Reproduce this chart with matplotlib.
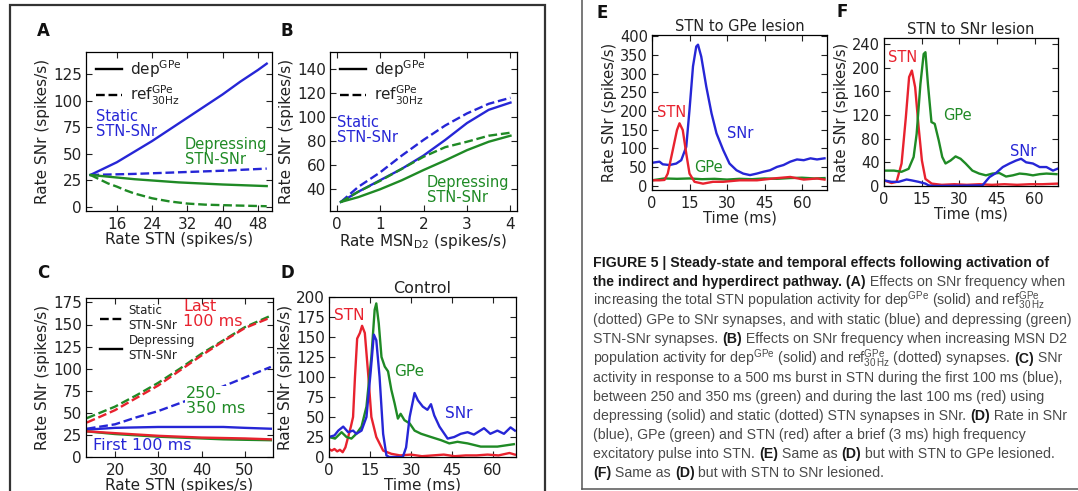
import matplotlib
matplotlib.use('Agg')
import matplotlib.pyplot as plt
from matplotlib.lines import Line2D
from matplotlib.patches import Rectangle

# ---------------- data ----------------
# Panel A
a_x = [10, 12, 14, 16, 20, 24, 28, 32, 36, 40, 44, 48, 50]
a_static_dep = [30, 34, 38, 42, 52, 62, 73, 84, 95, 106, 118, 129, 135]
a_x2 = [10, 20, 30, 40, 50]
a_static_ref = [30, 31, 32.5, 34, 36]
a_depr_dep = [30, 26, 23, 21, 19.5]
a_x3 = [10, 12, 14, 16, 18, 20, 24, 28, 32, 36, 40, 45, 50]
a_depr_ref = [30, 26, 22, 19, 15.5, 12.5, 8, 5, 3, 2, 1.5, 1, 0.5]

# Panel B
b_x = [0.1, 0.5, 1, 1.5, 2, 2.5, 3, 3.5, 4]
b_static_ref = [29.5, 42, 54, 68, 81, 93, 103, 111, 116]
b_static_dep = [29.5, 38, 47.5, 57, 68, 81, 95, 106, 112]
b_depr_ref = [29.5, 38, 47, 57, 67, 75, 79.5, 84.5, 87]
b_depr_dep = [29.5, 33.5, 40, 47.5, 56, 64, 72.5, 79.5, 84.5]

# Panel C
c_x = [13.5, 20, 25, 30, 35, 40, 45, 50, 56]
c_last_static = [39, 53, 67, 81, 98, 115, 131, 146, 158]
c_mid_static = [44, 57, 70, 84, 100, 117, 132, 147, 160]
c_first_static = [32, 37, 45, 52, 61, 70, 80, 90, 102]
c_first_depr = [31, 33, 33.5, 34, 34, 34, 34, 33, 32]
c_last_depr = [29, 27, 25.5, 24, 23, 22, 21.5, 21, 20]
c_mid_depr = [29, 26, 24.5, 23, 22, 21, 20, 19.5, 19]

# Panel D (Control)
d_stn_t = [0, 1, 2, 3, 4, 5, 6, 7, 8, 8.8, 9.5, 10.3, 11.3, 12.1, 13.1, 14.3, 15.5, 17.3, 19.8,
           22.8, 26, 30, 34, 38, 42, 46, 50, 54, 58, 62, 66, 68]
d_stn = [10, 8, 10, 7, 9, 6, 12, 25, 38, 50, 100, 148, 155, 164, 155, 105, 50, 25, 8,
         4, 2, 3, 1, 2, 3, 1, 2, 2, 3, 2, 5, 3]
d_snr_t = [0, 2, 3.4, 5.2, 7, 8.8, 10, 11.9, 13.7, 15.2, 16.4, 17.3, 18.5, 19.8, 21, 22, 27, 28.2,
           29.5, 31.3, 32.5, 34.3, 36, 37.3, 38.5, 40.4, 43.4, 45.8, 48.2, 50.7, 53, 56.7, 59,
           61.6, 64, 66.4, 68]
d_snr = [25, 27, 33, 38, 31, 33, 29, 33, 50, 105, 153, 146, 100, 29, 2, 0, 0, 12,
         50, 80, 71, 63, 59, 66, 52, 38, 23, 25, 29, 31, 28, 36, 29,
         33, 29, 37, 33]
d_gpe_t = [0, 2.2, 4.6, 6.4, 8.2, 10, 11.9, 13.7, 15.5, 16.7, 17.3, 18.2, 19.2, 20.4, 21.6, 22.8,
           24, 25.2, 26.2, 27.6, 29.5, 31.3, 33.7, 37.3, 41, 44, 47, 50.7, 55.5, 61.6, 67.6]
d_gpe = [25, 23, 31, 25, 23, 29, 38, 63, 125, 184, 192, 167, 125, 113, 107, 84,
         67, 48, 54, 46, 42, 33, 29, 25, 21, 17, 19, 17, 13, 13, 16]

# Panel E (STN to GPe lesion)
e_snr_t = [0, 3, 4.3, 7, 9.7, 11.7, 13.7, 15, 16.4, 17.7, 18.4, 19.7, 21.7, 23.8, 25.8, 28.5, 31,
           33.8, 36.5, 39.2, 41.9, 44.6, 47.2, 50, 52.6, 55.3, 58, 60.7, 63.4, 66, 69]
e_snr = [61, 64, 57, 55, 59, 68, 104, 203, 320, 373, 378, 346, 266, 194, 140, 95, 59,
         41, 32, 28, 32, 37, 41, 50, 55, 64, 70, 68, 73, 70, 73]
e_stn_t = [0, 3, 5, 6.3, 8.3, 10, 11, 12.3, 13.7, 15, 17, 20.4, 24.4, 28.5, 35, 42, 48.6, 55.3,
           60.7, 66, 69]
e_stn = [14, 14, 15, 32, 95, 149, 167, 149, 86, 32, 10, 5, 10, 10, 14, 14, 19, 23, 16, 19, 16]
e_gpe_t = [0, 5, 10, 15, 20, 25, 30, 35, 40, 45, 50, 55, 60, 65, 69]
e_gpe = [14, 19, 18, 19, 17, 18, 16, 18, 17, 19, 18, 20, 21, 19, 20]

# Panel F (STN to SNr lesion)
f_stn_t = [0, 3, 5, 7, 8.7, 10, 11.1, 12.4, 13.8, 15.1, 16.5, 19, 23, 28, 33, 38, 43, 48, 53, 58, 63, 69]
f_stn = [9.5, 5, 7, 38, 116, 184, 195, 167, 99, 43, 12, 4, 2, 3, 2, 3, 2, 3, 2, 3, 3, 4]
f_gpe_t = [0, 4, 7, 9.8, 11.8, 13, 14.5, 15.8, 16.5, 17.5, 18.9, 20.2, 21.8, 23.2, 24.5, 26.5,
           28.5, 30.5, 32.5, 35.2, 37.9, 40.6, 43.2, 45.9, 48.6, 51.3, 54, 56.6, 59.3, 62, 64.7, 68.7]
f_gpe = [26, 26, 24, 29, 49, 88, 172, 223, 226, 172, 108, 105, 77, 49, 38, 43,
         50, 46, 38, 26, 21, 18, 21, 22, 16, 18, 21, 20, 18, 20, 21, 20]
f_snr_t = [0, 3, 5.8, 9, 11, 13.8, 16.5, 17.8, 20, 39.2, 42, 44.6, 47.3, 50, 52.6, 54.6, 56.6,
           59.3, 62, 64.7, 67.3, 69]
f_snr = [9.5, 7, 7, 11, 9.5, 7, 4, 1, 0, 1, 15, 22, 32, 38, 43, 46, 40, 38, 32, 32, 26, 29]

# tick labels
a_xticks = [16, 24, 32, 40, 48]
a_yticks = [0, 25, 50, 75, 100, 125]
b_xticks = [0, 1, 2, 3, 4]
b_yticks = [40, 60, 80, 100, 120, 140]
c_xticks = [20, 30, 40, 50]
c_yticks = [0, 25, 50, 75, 100, 125, 150, 175]
t_xticks = [0, 15, 30, 45, 60]
d_yticks = [0, 25, 50, 75, 100, 125, 150, 175, 200]
e_yticks = [0, 50, 100, 150, 200, 250, 300, 350, 400]
f_yticks = [0, 40, 80, 120, 160, 200, 240]

caption_lines = [
    [("FIGURE 5 | Steady-state and temporal effects following activation of", True)],
    [("the indirect and hyperdirect pathway. (A)", True), (" Effects on SNr frequency when", False)],
    [(r"increasing the total STN population activity for dep$^{\mathregular{GPe}}$ (solid) and ref$^{\mathregular{GPe}}_{\mathregular{30\,Hz}}$", False)],
    [("(dotted) GPe to SNr synapses, and with static (blue) and depressing (green)", False)],
    [("STN-SNr synapses. ", False), ("(B)", True), (" Effects on SNr frequency when increasing MSN D2", False)],
    [(r"population activity for dep$^{\mathregular{GPe}}$ (solid) and ref$^{\mathregular{GPe}}_{\mathregular{30\,Hz}}$ (dotted) synapses. ", False), ("(C)", True), (" SNr", False)],
    [("activity in response to a 500 ms burst in STN during the first 100 ms (blue),", False)],
    [("between 250 and 350 ms (green) and during the last 100 ms (red) using", False)],
    [("depressing (solid) and static (dotted) STN synapses in SNr. ", False), ("(D)", True), (" Rate in SNr", False)],
    [("(blue), GPe (green) and STN (red) after a brief (3 ms) high frequency", False)],
    [("excitatory pulse into STN. ", False), ("(E)", True), (" Same as ", False), ("(D)", True), (" but with STN to GPe lesioned.", False)],
    [("(F)", True), (" Same as ", False), ("(D)", True), (" but with STN to SNr lesioned.", False)],
]

# ---------------- style ----------------
W, H = 1078, 491
plt.rcParams.update({
    'font.family': ['DejaVu Sans'],
    'font.size': 11,
    'xtick.direction': 'in', 'ytick.direction': 'in',
    'xtick.top': True, 'ytick.right': True,
    'xtick.major.size': 4, 'ytick.major.size': 4,
    'xtick.major.pad': 4, 'ytick.major.pad': 3,
    'axes.linewidth': 0.9,
    'text.color': '#222222', 'axes.labelcolor': '#222222',
    'xtick.color': '#222222', 'ytick.color': '#222222',
})
BLUE = '#2626d6'
GREEN = '#1f8a25'
RED = '#e8222e'
LW = 1.7

fig = plt.figure(figsize=(W / 100, H / 100), dpi=100)
fig.patch.set_facecolor('white')


def add_ax(l, t, r, b):
    return fig.add_axes([l / W, 1 - b / H, (r - l) / W, (b - t) / H])


def ftext(x, y, s, **kw):
    return fig.text(x / W, 1 - y / H, s, **kw)


def style(ax, xt, yt, xlim, ylim, xlabel, ylabel, fs=11):
    ax.set_xticks(xt)
    ax.set_yticks(yt)
    ax.set_xlim(*xlim)
    ax.set_ylim(*ylim)
    ax.tick_params(labelsize=fs)
    ax.set_xlabel(xlabel, fontsize=fs, labelpad=0)
    ax.set_ylabel(ylabel, fontsize=fs, labelpad=2)


ylab = 'Rate SNr (spikes/s)'

# ---- Panel A ----
ax = add_ax(86, 52, 272, 211)
ax.plot(a_x, a_static_dep, color=BLUE, lw=LW)
ax.plot(a_x2, a_static_ref, color=BLUE, lw=LW, ls='--')
ax.plot(a_x2, a_depr_dep, color=GREEN, lw=LW)
ax.plot(a_x3, a_depr_ref, color=GREEN, lw=LW, ls='--')
style(ax, a_xticks, a_yticks, (9, 51.2), (-4, 146), 'Rate STN (spikes/s)', ylab)
hA = [Line2D([], [], color='black', lw=LW), Line2D([], [], color='black', lw=LW, ls='--')]
ax.legend(hA, [r'dep$^{\mathregular{GPe}}$', r'ref$^{\mathregular{GPe}}_{\mathregular{30Hz}}$'],
          loc='upper left', bbox_to_anchor=(-0.02, 1.05), frameon=False, fontsize=11,
          handlelength=1.7, handletextpad=0.5, labelspacing=0.25)
ftext(96, 124, 'Static\nSTN-SNr', color=BLUE, fontsize=10.5, va='center', linespacing=1.0)
ftext(185, 152, 'Depressing\nSTN-SNr', color=GREEN, fontsize=10.5, va='center', linespacing=1.0)

# ---- Panel B ----
ax = add_ax(330, 52, 517, 211)
ax.plot(b_x, b_static_ref, color=BLUE, lw=LW, ls='--')
ax.plot(b_x, b_static_dep, color=BLUE, lw=LW)
ax.plot(b_x, b_depr_ref, color=GREEN, lw=LW, ls='--')
ax.plot(b_x, b_depr_dep, color=GREEN, lw=LW)
style(ax, b_xticks, b_yticks, (-0.15, 4.15), (22, 154), r'Rate MSN$_{\mathregular{D2}}$ (spikes/s)', ylab)
ax.legend(hA, [r'dep$^{\mathregular{GPe}}$', r'ref$^{\mathregular{GPe}}_{\mathregular{30Hz}}$'],
          loc='upper left', bbox_to_anchor=(-0.02, 1.05), frameon=False, fontsize=11,
          handlelength=1.7, handletextpad=0.5, labelspacing=0.25)
ftext(337, 130, 'Static\nSTN-SNr', color=BLUE, fontsize=10.5, va='center', linespacing=1.0)
ftext(427, 190, 'Depressing\nSTN-SNr', color=GREEN, fontsize=10.5, va='center', linespacing=1.0)

# ---- Panel C ----
ax = add_ax(86, 298, 273, 457)
ax.plot(c_x, c_mid_static, color=GREEN, lw=LW, ls='--')
ax.plot(c_x, c_last_static, color=RED, lw=LW, ls='--')
ax.plot(c_x, c_first_static, color=BLUE, lw=LW, ls='--')
ax.plot(c_x, c_first_depr, color=BLUE, lw=LW)
ax.plot(c_x, c_mid_depr, color=GREEN, lw=LW)
ax.plot(c_x, c_last_depr, color=RED, lw=LW)
style(ax, c_xticks, c_yticks, (13.3, 56.5), (0, 180), 'Rate STN (spikes/s)', ylab)
hC = [Line2D([], [], color='black', lw=LW, ls='--'), Line2D([], [], color='black', lw=LW)]
ax.legend(hC, ['Static\nSTN-SNr', 'Depressing\nSTN-SNr'], loc='upper left',
          bbox_to_anchor=(0.02, 1.03), frameon=False, fontsize=8.5,
          handlelength=1.8, handletextpad=0.6, labelspacing=0.2)
ftext(183, 314, 'Last\n100 ms', color=RED, fontsize=11.5, va='center', linespacing=0.95)
ftext(186, 401, '250-\n350 ms', color=GREEN, fontsize=11.5, va='center', linespacing=0.95,
      bbox=dict(fc='white', ec='none', pad=0.5))
ftext(93, 446, 'First 100 ms', color=BLUE, fontsize=11.5, va='center')

# ---- Panel D ----
ax = add_ax(329, 297, 516, 457)
ax.plot(d_stn_t, d_stn, color=RED, lw=LW)
ax.plot(d_gpe_t, d_gpe, color=GREEN, lw=LW)
ax.plot(d_snr_t, d_snr, color=BLUE, lw=LW)
style(ax, t_xticks, d_yticks, (0, 68.4), (0, 200), 'Time (ms)', ylab)
ax.set_title('Control', fontsize=11.5, pad=3)
ftext(334, 315, 'STN', color=RED, fontsize=11, va='center')
ftext(394, 372, 'GPe', color=GREEN, fontsize=11, va='center')
ftext(445, 413, 'SNr', color=BLUE, fontsize=11, va='center')

# ---- Panel E ----
ax = add_ax(652, 35, 827, 190)
ax.plot(e_snr_t, e_snr, color=BLUE, lw=LW)
ax.plot(e_gpe_t, e_gpe, color=GREEN, lw=LW)
ax.plot(e_stn_t, e_stn, color=RED, lw=LW)
style(ax, t_xticks, e_yticks, (0, 70), (-12, 404), 'Time (ms)', ylab, fs=10.5)
ax.set_title('STN to GPe lesion', fontsize=10.5, pad=3)
ftext(657, 112, 'STN', color=RED, fontsize=10.5, va='center')
ftext(727, 134, 'SNr', color=BLUE, fontsize=10.5, va='center')
ftext(694, 167, 'GPe', color=GREEN, fontsize=10.5, va='center')

# ---- Panel F ----
ax = add_ax(884, 38, 1058, 186)
ax.plot(f_stn_t, f_stn, color=RED, lw=LW)
ax.plot(f_gpe_t, f_gpe, color=GREEN, lw=LW)
ax.plot(f_snr_t, f_snr, color=BLUE, lw=LW)
style(ax, t_xticks, f_yticks, (0, 69.3), (0, 250), 'Time (ms)', ylab, fs=10.5)
ax.set_title('STN to SNr lesion', fontsize=10.5, pad=3)
ftext(888, 58, 'STN', color=RED, fontsize=10.5, va='center')
ftext(943, 115, 'GPe', color=GREEN, fontsize=10.5, va='center')
ftext(1010, 152, 'SNr', color=BLUE, fontsize=10.5, va='center')

# panel letters
for (x, y, s) in [(37, 31, 'A'), (280, 31, 'B'), (37, 273, 'C'), (280, 273, 'D'),
                  (597, 13, 'E'), (836, 12, 'F')]:
    ftext(x, y, s, fontsize=12, fontweight='bold', va='center', color='#111111')

# frames
fig.add_artist(Rectangle((10 / W, 1 - 500 / H), 535 / W, 495 / H, transform=fig.transFigure,
                         fill=False, ec='#333333', lw=1.6))
fig.add_artist(Line2D([582 / W, 582 / W], [1.0, 1 - 489 / H], transform=fig.transFigure,
                      color='#555555', lw=1.1))
fig.add_artist(Line2D([582 / W, 1.0], [1 - 489 / H, 1 - 489 / H], transform=fig.transFigure,
                      color='#555555', lw=1.1))

# ---- caption ----
CAP_FONT = ['Liberation Sans', 'DejaVu Sans']
CAP_FS = 10.2
renderer = fig.canvas.get_renderer()


def seg_width(s, bold):
    kw = dict(fontsize=CAP_FS, family=CAP_FONT, fontweight='bold' if bold else 'normal')
    t1 = fig.text(0, 0, s + '|', **kw)
    t2 = fig.text(0, 0, '|', **kw)
    w = t1.get_window_extent(renderer).width - t2.get_window_extent(renderer).width
    t1.remove()
    t2.remove()
    return w


y0 = 267
dy = 19.1
for i, line in enumerate(caption_lines):
    x = 593
    y = y0 + i * dy
    for s, bold in line:
        ftext(x, y, s, fontsize=CAP_FS, family=CAP_FONT,
              fontweight='bold' if bold else 'normal',
              color='#1a1a1a' if bold else '#4a4a4a', va='baseline')
        x += seg_width(s, bold)

fig.savefig('out.png', dpi=100, facecolor='white')
